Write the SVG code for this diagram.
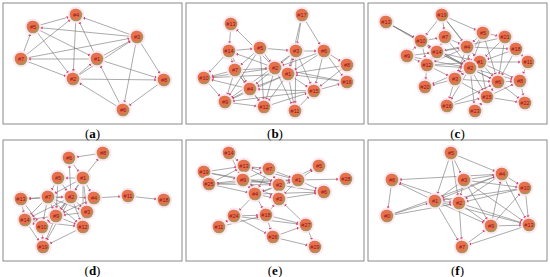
<svg xmlns="http://www.w3.org/2000/svg" width="550" height="277" viewBox="0 0 550 277">
<style>
.frame{fill:#fff;stroke:#8a8a8a;stroke-width:1}
.e line{stroke:#727272;stroke-width:0.6;marker-end:url(#ah)}
.n text{font-family:"Liberation Sans",Arial,sans-serif;font-size:5.6px;fill:#8e1414;text-anchor:middle}
.lbl{font-family:"Liberation Serif","Times New Roman",serif;font-size:13px;fill:#000;text-anchor:middle}
</style>
<defs>
<marker id="ah" viewBox="0 0 10 10" refX="27" refY="5" markerWidth="3.6" markerHeight="3.6" markerUnits="userSpaceOnUse" orient="auto"><path d="M0,1 L10,5 L0,9 z" fill="#d8406a"/></marker>
<g id="nd"><circle r="8.4" fill="#fde4f0" opacity="0.9"/><circle r="6.3" fill="#a8955a"/><circle cx="-0.7" cy="-0.9" r="5.4" fill="#e8704c"/></g>
</defs>
<rect width="550" height="277" fill="#fff"/>
<rect class="frame" x="3" y="3" width="179" height="121"/>
<rect class="frame" x="186" y="3" width="178" height="121"/>
<rect class="frame" x="368" y="3" width="179" height="121"/>
<rect class="frame" x="3" y="140" width="179" height="121"/>
<rect class="frame" x="186" y="140" width="178" height="121"/>
<rect class="frame" x="368" y="140" width="179" height="121"/>
<g class="e" id="connectors">
<!-- a -->
<line x1="33" y1="27" x2="76" y2="15"/><line x1="21" y1="59" x2="33" y2="27"/><line x1="33" y1="27" x2="97" y2="59"/><line x1="33" y1="27" x2="73" y2="79"/><line x1="137" y1="37" x2="33" y2="27"/><line x1="21" y1="59" x2="76" y2="15"/><line x1="76" y1="15" x2="73" y2="79"/><line x1="97" y1="59" x2="76" y2="15"/><line x1="137" y1="37" x2="76" y2="15"/><line x1="21" y1="59" x2="137" y2="37"/><line x1="97" y1="59" x2="21" y2="59"/><line x1="21" y1="59" x2="73" y2="79"/><line x1="97" y1="59" x2="137" y2="37"/><line x1="73" y1="79" x2="137" y2="37"/><line x1="137" y1="37" x2="164" y2="80"/><line x1="137" y1="37" x2="123" y2="110"/><line x1="73" y1="79" x2="97" y2="59"/><line x1="97" y1="59" x2="164" y2="80"/><line x1="123" y1="110" x2="97" y2="59"/><line x1="73" y1="79" x2="164" y2="80"/><line x1="123" y1="110" x2="73" y2="79"/><line x1="164" y1="80" x2="123" y2="110"/>
<!-- b -->
<line x1="231" y1="24" x2="229" y2="51"/><line x1="275" y1="68" x2="231" y2="24"/><line x1="302" y1="15" x2="296" y2="51"/><line x1="302" y1="15" x2="288" y2="74"/><line x1="302" y1="15" x2="324" y2="51"/><line x1="229" y1="51" x2="260" y2="48"/><line x1="229" y1="51" x2="235" y2="70"/><line x1="229" y1="51" x2="204" y2="78"/><line x1="229" y1="51" x2="250" y2="89"/><line x1="275" y1="68" x2="229" y2="51"/><line x1="260" y1="48" x2="296" y2="51"/><line x1="260" y1="48" x2="275" y2="68"/><line x1="260" y1="48" x2="235" y2="70"/><line x1="260" y1="48" x2="225" y2="102"/><line x1="260" y1="48" x2="264" y2="107"/><line x1="296" y1="51" x2="324" y2="51"/><line x1="296" y1="51" x2="275" y2="68"/><line x1="288" y1="74" x2="296" y2="51"/><line x1="296" y1="51" x2="314" y2="91"/><line x1="296" y1="51" x2="295" y2="111"/><line x1="296" y1="51" x2="225" y2="102"/><line x1="324" y1="51" x2="347" y2="65"/><line x1="324" y1="51" x2="347" y2="82"/><line x1="324" y1="51" x2="288" y2="74"/><line x1="324" y1="51" x2="314" y2="91"/><line x1="324" y1="51" x2="275" y2="68"/><line x1="347" y1="65" x2="288" y2="74"/><line x1="347" y1="65" x2="314" y2="91"/><line x1="347" y1="82" x2="288" y2="74"/><line x1="314" y1="91" x2="347" y2="82"/><line x1="235" y1="70" x2="275" y2="68"/><line x1="235" y1="70" x2="204" y2="78"/><line x1="235" y1="70" x2="250" y2="89"/><line x1="235" y1="70" x2="225" y2="102"/><line x1="235" y1="70" x2="264" y2="107"/><line x1="275" y1="68" x2="288" y2="74"/><line x1="275" y1="68" x2="204" y2="78"/><line x1="275" y1="68" x2="250" y2="89"/><line x1="275" y1="68" x2="264" y2="107"/><line x1="275" y1="68" x2="295" y2="111"/><line x1="288" y1="74" x2="250" y2="89"/><line x1="288" y1="74" x2="314" y2="91"/><line x1="288" y1="74" x2="295" y2="111"/><line x1="288" y1="74" x2="264" y2="107"/><line x1="288" y1="74" x2="225" y2="102"/><line x1="204" y1="78" x2="225" y2="102"/><line x1="250" y1="89" x2="204" y2="78"/><line x1="250" y1="89" x2="264" y2="107"/><line x1="250" y1="89" x2="225" y2="102"/><line x1="314" y1="91" x2="250" y2="89"/><line x1="225" y1="102" x2="264" y2="107"/><line x1="314" y1="91" x2="225" y2="102"/><line x1="264" y1="107" x2="314" y2="91"/><line x1="295" y1="111" x2="314" y2="91"/><line x1="288" y1="74" x2="204" y2="78"/><line x1="347" y1="82" x2="275" y2="68"/>
<!-- c -->
<line x1="386" y1="22" x2="421" y2="41"/><line x1="386" y1="22" x2="437" y2="52"/><line x1="386" y1="22" x2="470" y2="68"/><line x1="442" y1="15" x2="421" y2="41"/><line x1="442" y1="15" x2="445" y2="37"/><line x1="442" y1="15" x2="483" y2="33"/><line x1="442" y1="15" x2="467" y2="47"/><line x1="442" y1="15" x2="480" y2="62"/><line x1="421" y1="41" x2="445" y2="37"/><line x1="407" y1="56" x2="421" y2="41"/><line x1="421" y1="41" x2="437" y2="52"/><line x1="421" y1="41" x2="427" y2="65"/><line x1="421" y1="41" x2="470" y2="68"/><line x1="445" y1="37" x2="437" y2="52"/><line x1="445" y1="37" x2="467" y2="47"/><line x1="445" y1="37" x2="470" y2="68"/><line x1="445" y1="37" x2="427" y2="65"/><line x1="483" y1="33" x2="467" y2="47"/><line x1="483" y1="33" x2="505" y2="37"/><line x1="483" y1="33" x2="470" y2="68"/><line x1="483" y1="33" x2="455" y2="79"/><line x1="483" y1="33" x2="498" y2="82"/><line x1="505" y1="37" x2="516" y2="49"/><line x1="505" y1="37" x2="480" y2="62"/><line x1="505" y1="37" x2="498" y2="82"/><line x1="505" y1="37" x2="437" y2="52"/><line x1="437" y1="52" x2="467" y2="47"/><line x1="437" y1="52" x2="470" y2="68"/><line x1="437" y1="52" x2="427" y2="65"/><line x1="407" y1="56" x2="437" y2="52"/><line x1="437" y1="52" x2="480" y2="62"/><line x1="437" y1="52" x2="498" y2="82"/><line x1="467" y1="47" x2="480" y2="62"/><line x1="467" y1="47" x2="470" y2="68"/><line x1="467" y1="47" x2="427" y2="65"/><line x1="467" y1="47" x2="455" y2="79"/><line x1="467" y1="47" x2="516" y2="49"/><line x1="516" y1="49" x2="480" y2="62"/><line x1="516" y1="49" x2="528" y2="62"/><line x1="516" y1="49" x2="498" y2="82"/><line x1="407" y1="56" x2="427" y2="65"/><line x1="407" y1="56" x2="470" y2="68"/><line x1="480" y1="62" x2="470" y2="68"/><line x1="480" y1="62" x2="528" y2="62"/><line x1="480" y1="62" x2="498" y2="82"/><line x1="480" y1="62" x2="520" y2="81"/><line x1="480" y1="62" x2="487" y2="97"/><line x1="480" y1="62" x2="455" y2="79"/><line x1="427" y1="65" x2="480" y2="62"/><line x1="427" y1="65" x2="470" y2="68"/><line x1="427" y1="65" x2="455" y2="79"/><line x1="427" y1="65" x2="425" y2="87"/><line x1="470" y1="68" x2="455" y2="79"/><line x1="470" y1="68" x2="498" y2="82"/><line x1="470" y1="68" x2="520" y2="81"/><line x1="470" y1="68" x2="487" y2="97"/><line x1="470" y1="68" x2="447" y2="106"/><line x1="470" y1="68" x2="475" y2="111"/><line x1="470" y1="68" x2="425" y2="87"/><line x1="455" y1="79" x2="425" y2="87"/><line x1="455" y1="79" x2="447" y2="106"/><line x1="455" y1="79" x2="487" y2="97"/><line x1="455" y1="79" x2="498" y2="82"/><line x1="498" y1="82" x2="520" y2="81"/><line x1="498" y1="82" x2="487" y2="97"/><line x1="498" y1="82" x2="525" y2="103"/><line x1="498" y1="82" x2="475" y2="111"/><line x1="520" y1="81" x2="525" y2="103"/><line x1="487" y1="97" x2="520" y2="81"/><line x1="487" y1="97" x2="525" y2="103"/><line x1="447" y1="106" x2="487" y2="97"/><line x1="487" y1="97" x2="475" y2="111"/><line x1="447" y1="106" x2="498" y2="82"/><line x1="528" y1="62" x2="520" y2="81"/>
<!-- d -->
<line x1="103" y1="153" x2="69" y2="158"/><line x1="83" y1="178" x2="103" y2="153"/><line x1="69" y1="158" x2="83" y2="178"/><line x1="71" y1="197" x2="69" y2="158"/><line x1="83" y1="178" x2="58" y2="178"/><line x1="58" y1="178" x2="48" y2="197"/><line x1="58" y1="178" x2="71" y2="197"/><line x1="58" y1="178" x2="56" y2="216"/><line x1="83" y1="178" x2="71" y2="197"/><line x1="83" y1="178" x2="48" y2="197"/><line x1="83" y1="178" x2="94" y2="198"/><line x1="83" y1="178" x2="87" y2="212"/><line x1="83" y1="178" x2="56" y2="216"/><line x1="83" y1="178" x2="83" y2="227"/><line x1="48" y1="197" x2="21" y2="199"/><line x1="21" y1="199" x2="25" y2="220"/><line x1="71" y1="197" x2="21" y2="199"/><line x1="21" y1="199" x2="42" y2="227"/><line x1="48" y1="197" x2="71" y2="197"/><line x1="48" y1="197" x2="56" y2="216"/><line x1="48" y1="197" x2="25" y2="220"/><line x1="48" y1="197" x2="42" y2="227"/><line x1="48" y1="197" x2="87" y2="212"/><line x1="48" y1="197" x2="83" y2="227"/><line x1="71" y1="197" x2="94" y2="198"/><line x1="71" y1="197" x2="56" y2="216"/><line x1="71" y1="197" x2="87" y2="212"/><line x1="71" y1="197" x2="83" y2="227"/><line x1="71" y1="197" x2="42" y2="227"/><line x1="71" y1="197" x2="25" y2="220"/><line x1="71" y1="197" x2="43" y2="247"/><line x1="94" y1="198" x2="128" y2="196"/><line x1="94" y1="198" x2="87" y2="212"/><line x1="94" y1="198" x2="56" y2="216"/><line x1="128" y1="196" x2="164" y2="200"/><line x1="87" y1="212" x2="56" y2="216"/><line x1="87" y1="212" x2="83" y2="227"/><line x1="56" y1="216" x2="25" y2="220"/><line x1="56" y1="216" x2="42" y2="227"/><line x1="56" y1="216" x2="83" y2="227"/><line x1="56" y1="216" x2="43" y2="247"/><line x1="25" y1="220" x2="42" y2="227"/><line x1="25" y1="220" x2="43" y2="247"/><line x1="42" y1="227" x2="43" y2="247"/><line x1="83" y1="227" x2="43" y2="247"/><line x1="25" y1="220" x2="83" y2="227"/>
<!-- e -->
<line x1="229" y1="153" x2="244" y2="166"/><line x1="229" y1="153" x2="243" y2="180"/><line x1="204" y1="172" x2="244" y2="166"/><line x1="204" y1="172" x2="243" y2="180"/><line x1="204" y1="172" x2="279" y2="185"/><line x1="209" y1="184" x2="244" y2="166"/><line x1="243" y1="180" x2="209" y2="184"/><line x1="209" y1="184" x2="279" y2="185"/><line x1="298" y1="180" x2="209" y2="184"/><line x1="209" y1="184" x2="255" y2="194"/><line x1="244" y1="166" x2="243" y2="180"/><line x1="244" y1="166" x2="269" y2="169"/><line x1="244" y1="166" x2="279" y2="185"/><line x1="244" y1="166" x2="255" y2="194"/><line x1="298" y1="180" x2="244" y2="166"/><line x1="243" y1="180" x2="279" y2="185"/><line x1="243" y1="180" x2="255" y2="194"/><line x1="243" y1="180" x2="298" y2="180"/><line x1="243" y1="180" x2="269" y2="169"/><line x1="243" y1="180" x2="279" y2="199"/><line x1="269" y1="169" x2="279" y2="185"/><line x1="269" y1="169" x2="255" y2="194"/><line x1="269" y1="169" x2="298" y2="180"/><line x1="298" y1="180" x2="319" y2="166"/><line x1="298" y1="180" x2="346" y2="179"/><line x1="298" y1="180" x2="324" y2="192"/><line x1="279" y1="185" x2="298" y2="180"/><line x1="298" y1="180" x2="255" y2="194"/><line x1="298" y1="180" x2="279" y2="199"/><line x1="279" y1="185" x2="255" y2="194"/><line x1="279" y1="185" x2="279" y2="199"/><line x1="279" y1="185" x2="324" y2="192"/><line x1="279" y1="185" x2="319" y2="166"/><line x1="255" y1="194" x2="279" y2="199"/><line x1="255" y1="194" x2="234" y2="216"/><line x1="255" y1="194" x2="266" y2="215"/><line x1="255" y1="194" x2="324" y2="192"/><line x1="279" y1="199" x2="324" y2="192"/><line x1="266" y1="215" x2="279" y2="199"/><line x1="234" y1="216" x2="266" y2="215"/><line x1="219" y1="227" x2="234" y2="216"/><line x1="234" y1="216" x2="273" y2="237"/><line x1="234" y1="216" x2="306" y2="225"/><line x1="219" y1="227" x2="266" y2="215"/><line x1="266" y1="215" x2="306" y2="225"/><line x1="266" y1="215" x2="273" y2="237"/><line x1="273" y1="237" x2="306" y2="225"/><line x1="273" y1="237" x2="315" y2="247"/><line x1="306" y1="225" x2="315" y2="247"/><line x1="306" y1="225" x2="279" y2="199"/>
<!-- f -->
<line x1="451" y1="153" x2="435" y2="201"/><line x1="451" y1="153" x2="459" y2="203"/><line x1="451" y1="153" x2="464" y2="180"/><line x1="451" y1="153" x2="502" y2="174"/><line x1="435" y1="201" x2="392" y2="180"/><line x1="459" y1="203" x2="392" y2="180"/><line x1="392" y1="180" x2="387" y2="216"/><line x1="502" y1="174" x2="392" y2="180"/><line x1="464" y1="180" x2="435" y2="201"/><line x1="464" y1="180" x2="459" y2="203"/><line x1="464" y1="180" x2="502" y2="174"/><line x1="464" y1="180" x2="525" y2="188"/><line x1="464" y1="180" x2="491" y2="226"/><line x1="464" y1="180" x2="529" y2="225"/><line x1="502" y1="174" x2="435" y2="201"/><line x1="502" y1="174" x2="459" y2="203"/><line x1="502" y1="174" x2="525" y2="188"/><line x1="491" y1="226" x2="502" y2="174"/><line x1="502" y1="174" x2="529" y2="225"/><line x1="525" y1="188" x2="435" y2="201"/><line x1="525" y1="188" x2="459" y2="203"/><line x1="525" y1="188" x2="529" y2="225"/><line x1="491" y1="226" x2="525" y2="188"/><line x1="435" y1="201" x2="459" y2="203"/><line x1="387" y1="216" x2="435" y2="201"/><line x1="435" y1="201" x2="491" y2="226"/><line x1="435" y1="201" x2="462" y2="247"/><line x1="435" y1="201" x2="529" y2="225"/><line x1="387" y1="216" x2="459" y2="203"/><line x1="459" y1="203" x2="491" y2="226"/><line x1="459" y1="203" x2="462" y2="247"/><line x1="459" y1="203" x2="529" y2="225"/><line x1="387" y1="216" x2="502" y2="174"/><line x1="491" y1="226" x2="529" y2="225"/><line x1="462" y1="247" x2="491" y2="226"/><line x1="529" y1="225" x2="462" y2="247"/>
</g>
<!-- panel a nodes -->
<g class="n" id="a-n4" transform="translate(76,15)"><use href="#nd"/><text y="2">#4</text></g>
<g class="n" id="a-n5" transform="translate(33,27)"><use href="#nd"/><text y="2">#5</text></g>
<g class="n" id="a-n3" transform="translate(137,37)"><use href="#nd"/><text y="2">#3</text></g>
<g class="n" id="a-n7" transform="translate(21,59)"><use href="#nd"/><text y="2">#7</text></g>
<g class="n" id="a-n1" transform="translate(97,59)"><use href="#nd"/><text y="2">#1</text></g>
<g class="n" id="a-n2" transform="translate(73,79)"><use href="#nd"/><text y="2">#2</text></g>
<g class="n" id="a-n8" transform="translate(164,80)"><use href="#nd"/><text y="2">#8</text></g>
<g class="n" id="a-n6" transform="translate(123,110)"><use href="#nd"/><text y="2">#6</text></g>
<!-- panel b nodes -->
<g class="n" id="b-n13" transform="translate(231,24)"><use href="#nd"/><text y="2">#13</text></g>
<g class="n" id="b-n17" transform="translate(302,15)"><use href="#nd"/><text y="2">#17</text></g>
<g class="n" id="b-n14" transform="translate(229,51)"><use href="#nd"/><text y="2">#14</text></g>
<g class="n" id="b-n5" transform="translate(260,48)"><use href="#nd"/><text y="2">#5</text></g>
<g class="n" id="b-n3" transform="translate(296,51)"><use href="#nd"/><text y="2">#3</text></g>
<g class="n" id="b-n6" transform="translate(324,51)"><use href="#nd"/><text y="2">#6</text></g>
<g class="n" id="b-n8" transform="translate(347,65)"><use href="#nd"/><text y="2">#8</text></g>
<g class="n" id="b-n7" transform="translate(235,70)"><use href="#nd"/><text y="2">#7</text></g>
<g class="n" id="b-n2" transform="translate(275,68)"><use href="#nd"/><text y="2">#2</text></g>
<g class="n" id="b-n1" transform="translate(288,74)"><use href="#nd"/><text y="2">#1</text></g>
<g class="n" id="b-n16" transform="translate(347,82)"><use href="#nd"/><text y="2">#16</text></g>
<g class="n" id="b-n10" transform="translate(204,78)"><use href="#nd"/><text y="2">#10</text></g>
<g class="n" id="b-n4" transform="translate(250,89)"><use href="#nd"/><text y="2">#4</text></g>
<g class="n" id="b-n15" transform="translate(314,91)"><use href="#nd"/><text y="2">#15</text></g>
<g class="n" id="b-n9" transform="translate(225,102)"><use href="#nd"/><text y="2">#9</text></g>
<g class="n" id="b-n12" transform="translate(264,107)"><use href="#nd"/><text y="2">#12</text></g>
<g class="n" id="b-n11" transform="translate(295,111)"><use href="#nd"/><text y="2">#11</text></g>
<!-- panel c nodes -->
<g class="n" id="c-n13" transform="translate(386,22)"><use href="#nd"/><text y="2">#13</text></g>
<g class="n" id="c-n19" transform="translate(442,15)"><use href="#nd"/><text y="2">#19</text></g>
<g class="n" id="c-n10" transform="translate(421,41)"><use href="#nd"/><text y="2">#10</text></g>
<g class="n" id="c-n7" transform="translate(445,37)"><use href="#nd"/><text y="2">#7</text></g>
<g class="n" id="c-n5" transform="translate(483,33)"><use href="#nd"/><text y="2">#5</text></g>
<g class="n" id="c-n21" transform="translate(505,37)"><use href="#nd"/><text y="2">#21</text></g>
<g class="n" id="c-n14" transform="translate(437,52)"><use href="#nd"/><text y="2">#14</text></g>
<g class="n" id="c-n4" transform="translate(467,47)"><use href="#nd"/><text y="2">#4</text></g>
<g class="n" id="c-n18" transform="translate(516,49)"><use href="#nd"/><text y="2">#18</text></g>
<g class="n" id="c-n9" transform="translate(407,56)"><use href="#nd"/><text y="2">#9</text></g>
<g class="n" id="c-n11" transform="translate(528,62)"><use href="#nd"/><text y="2">#11</text></g>
<g class="n" id="c-n12" transform="translate(427,65)"><use href="#nd"/><text y="2">#12</text></g>
<g class="n" id="c-n1" transform="translate(480,62)"><use href="#nd"/><text y="2">#1</text></g>
<g class="n" id="c-n2" transform="translate(470,68)"><use href="#nd"/><text y="2">#2</text></g>
<g class="n" id="c-n3" transform="translate(455,79)"><use href="#nd"/><text y="2">#3</text></g>
<g class="n" id="c-n6" transform="translate(498,82)"><use href="#nd"/><text y="2">#6</text></g>
<g class="n" id="c-n8" transform="translate(520,81)"><use href="#nd"/><text y="2">#8</text></g>
<g class="n" id="c-n20" transform="translate(425,87)"><use href="#nd"/><text y="2">#20</text></g>
<g class="n" id="c-n15" transform="translate(487,97)"><use href="#nd"/><text y="2">#15</text></g>
<g class="n" id="c-n16" transform="translate(447,106)"><use href="#nd"/><text y="2">#16</text></g>
<g class="n" id="c-n22" transform="translate(525,103)"><use href="#nd"/><text y="2">#22</text></g>
<g class="n" id="c-n23" transform="translate(475,111)"><use href="#nd"/><text y="2">#23</text></g>
<!-- panel d nodes -->
<g class="n" id="d-n6" transform="translate(69,158)"><use href="#nd"/><text y="2">#6</text></g>
<g class="n" id="d-n8" transform="translate(103,153)"><use href="#nd"/><text y="2">#8</text></g>
<g class="n" id="d-n5" transform="translate(58,178)"><use href="#nd"/><text y="2">#5</text></g>
<g class="n" id="d-n1" transform="translate(83,178)"><use href="#nd"/><text y="2">#1</text></g>
<g class="n" id="d-n13" transform="translate(21,199)"><use href="#nd"/><text y="2">#13</text></g>
<g class="n" id="d-n7" transform="translate(48,197)"><use href="#nd"/><text y="2">#7</text></g>
<g class="n" id="d-n2" transform="translate(71,197)"><use href="#nd"/><text y="2">#2</text></g>
<g class="n" id="d-n4" transform="translate(94,198)"><use href="#nd"/><text y="2">#4</text></g>
<g class="n" id="d-n11" transform="translate(128,196)"><use href="#nd"/><text y="2">#11</text></g>
<g class="n" id="d-n18" transform="translate(164,200)"><use href="#nd"/><text y="2">#18</text></g>
<g class="n" id="d-n3" transform="translate(87,212)"><use href="#nd"/><text y="2">#3</text></g>
<g class="n" id="d-n9" transform="translate(56,216)"><use href="#nd"/><text y="2">#9</text></g>
<g class="n" id="d-n14" transform="translate(25,220)"><use href="#nd"/><text y="2">#14</text></g>
<g class="n" id="d-n10" transform="translate(42,227)"><use href="#nd"/><text y="2">#10</text></g>
<g class="n" id="d-n12" transform="translate(83,227)"><use href="#nd"/><text y="2">#12</text></g>
<g class="n" id="d-n19" transform="translate(43,247)"><use href="#nd"/><text y="2">#19</text></g>
<!-- panel e nodes -->
<g class="n" id="e-n14" transform="translate(229,153)"><use href="#nd"/><text y="2">#14</text></g>
<g class="n" id="e-n13" transform="translate(244,166)"><use href="#nd"/><text y="2">#13</text></g>
<g class="n" id="e-n7" transform="translate(269,169)"><use href="#nd"/><text y="2">#7</text></g>
<g class="n" id="e-n5" transform="translate(319,166)"><use href="#nd"/><text y="2">#5</text></g>
<g class="n" id="e-n19" transform="translate(204,172)"><use href="#nd"/><text y="2">#19</text></g>
<g class="n" id="e-n9" transform="translate(243,180)"><use href="#nd"/><text y="2">#9</text></g>
<g class="n" id="e-n1" transform="translate(298,180)"><use href="#nd"/><text y="2">#1</text></g>
<g class="n" id="e-n28" transform="translate(346,179)"><use href="#nd"/><text y="2">#28</text></g>
<g class="n" id="e-n25" transform="translate(209,184)"><use href="#nd"/><text y="2">#25</text></g>
<g class="n" id="e-n2" transform="translate(279,185)"><use href="#nd"/><text y="2">#2</text></g>
<g class="n" id="e-n6" transform="translate(324,192)"><use href="#nd"/><text y="2">#6</text></g>
<g class="n" id="e-n4" transform="translate(255,194)"><use href="#nd"/><text y="2">#4</text></g>
<g class="n" id="e-n3" transform="translate(279,199)"><use href="#nd"/><text y="2">#3</text></g>
<g class="n" id="e-n24" transform="translate(234,216)"><use href="#nd"/><text y="2">#24</text></g>
<g class="n" id="e-n18" transform="translate(266,215)"><use href="#nd"/><text y="2">#18</text></g>
<g class="n" id="e-n27" transform="translate(306,225)"><use href="#nd"/><text y="2">#27</text></g>
<g class="n" id="e-n11" transform="translate(219,227)"><use href="#nd"/><text y="2">#11</text></g>
<g class="n" id="e-n26" transform="translate(273,237)"><use href="#nd"/><text y="2">#26</text></g>
<g class="n" id="e-n29" transform="translate(315,247)"><use href="#nd"/><text y="2">#29</text></g>
<!-- panel f nodes -->
<g class="n" id="f-n5" transform="translate(451,153)"><use href="#nd"/><text y="2">#5</text></g>
<g class="n" id="f-n6" transform="translate(392,180)"><use href="#nd"/><text y="2">#6</text></g>
<g class="n" id="f-n3" transform="translate(464,180)"><use href="#nd"/><text y="2">#3</text></g>
<g class="n" id="f-n4" transform="translate(502,174)"><use href="#nd"/><text y="2">#4</text></g>
<g class="n" id="f-n10" transform="translate(525,188)"><use href="#nd"/><text y="2">#10</text></g>
<g class="n" id="f-n1" transform="translate(435,201)"><use href="#nd"/><text y="2">#1</text></g>
<g class="n" id="f-n2" transform="translate(459,203)"><use href="#nd"/><text y="2">#2</text></g>
<g class="n" id="f-n0" transform="translate(387,216)"><use href="#nd"/><text y="2">#0</text></g>
<g class="n" id="f-n9" transform="translate(491,226)"><use href="#nd"/><text y="2">#9</text></g>
<g class="n" id="f-n13" transform="translate(529,225)"><use href="#nd"/><text y="2">#13</text></g>
<g class="n" id="f-n7" transform="translate(462,247)"><use href="#nd"/><text y="2">#7</text></g>
<!-- captions -->
<text class="lbl" x="92.5" y="137.5">(<tspan font-weight="bold">a</tspan>)</text>
<text class="lbl" x="275" y="137.5">(<tspan font-weight="bold">b</tspan>)</text>
<text class="lbl" x="457.5" y="137.5">(<tspan font-weight="bold">c</tspan>)</text>
<text class="lbl" x="92.5" y="274.5">(<tspan font-weight="bold">d</tspan>)</text>
<text class="lbl" x="275" y="274.5">(<tspan font-weight="bold">e</tspan>)</text>
<text class="lbl" x="457.5" y="274.5">(<tspan font-weight="bold">f</tspan>)</text>
</svg>
